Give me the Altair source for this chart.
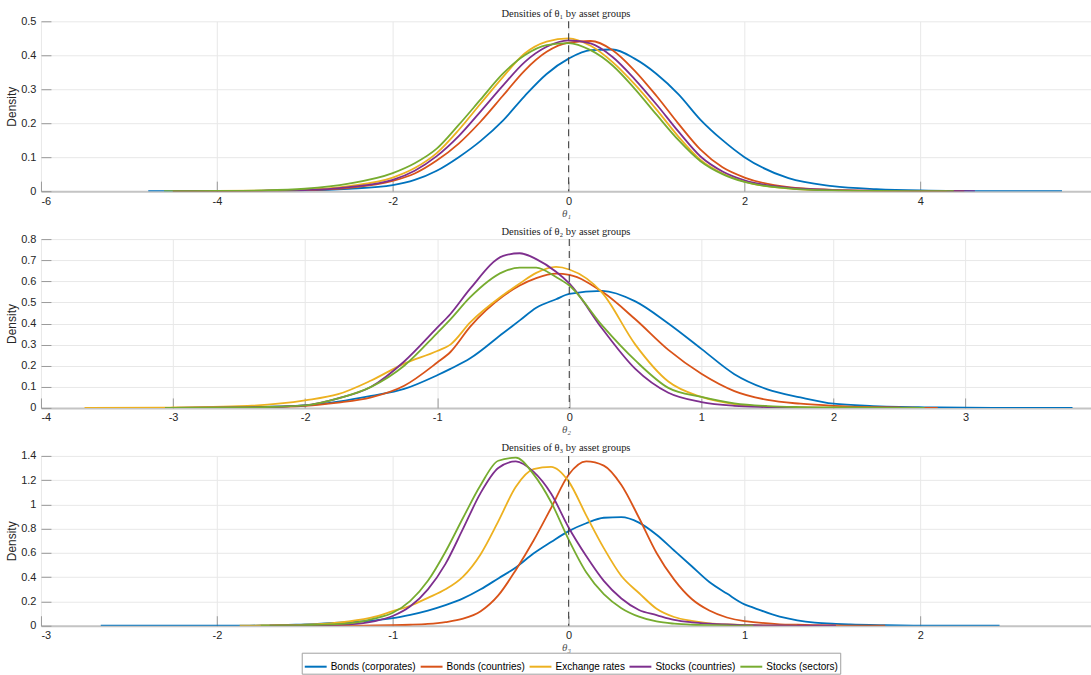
import altair as alt
import pandas as pd

GROUPS = ["Bonds (corporates)", "Bonds (countries)", "Exchange rates",
          "Stocks (countries)", "Stocks (sectors)"]
COLORS = ["#0072BD", "#D95319", "#EDB120", "#7E2F8E", "#77AC30"]

# ---------------- theta 1 ----------------
T1_X = [-4.78, -4.6, -4.5, -4, -3.5, -3, -2.5, -2, -1.75, -1.5, -1.25, -1, -0.75, -0.5,
        -0.25, 0, 0.25, 0.5, 0.75, 1, 1.25, 1.5, 1.75, 2, 2.5, 3, 3.5, 4, 4.3, 4.38,
        4.5, 4.62, 5, 5.61]
T1_BONDS_CORP = [0, 0, 0, 0.0003, 0.0008, 0.002, 0.007, 0.018, 0.033, 0.06, 0.10, 0.148,
                 0.207, 0.28, 0.345, 0.39, 0.415, 0.417, 0.39, 0.345, 0.285, 0.21, 0.15,
                 0.10, 0.038, 0.015, 0.006, 0.002, 0.001, 0.001, 0.0005, 0.0003, 0.0001, 0]
T1_BONDS_CTRY = [None, None, 0, 0.0003, 0.001, 0.003, 0.01, 0.03, 0.052, 0.09, 0.14,
                 0.205, 0.28, 0.355, 0.41, 0.437, 0.442, 0.415, 0.355, 0.28, 0.198, 0.122,
                 0.07, 0.04, 0.012, 0.004, 0.001, 0.0003, 0.0001, 0.0001, 0, None, None, None]
T1_FX = [None, None, 0, 0.0004, 0.0012, 0.004, 0.015, 0.04, 0.068, 0.112, 0.18, 0.258,
         0.335, 0.405, 0.44, 0.45, 0.428, 0.38, 0.315, 0.24, 0.16, 0.092, 0.052, 0.028,
         0.008, 0.002, 0.0005, 0.0001, 0, None, None, None, None, None]
T1_STK_CTRY = [None, None, 0, 0.0003, 0.001, 0.003, 0.012, 0.033, 0.06, 0.103, 0.162,
               0.235, 0.31, 0.38, 0.425, 0.444, 0.435, 0.395, 0.33, 0.255, 0.175, 0.102,
               0.058, 0.032, 0.01, 0.003, 0.001, 0.0003, 0.0002, 0.0001, 0.0001, 0, None, None]
T1_STK_SECT = [None, 0, 0.0001, 0.0006, 0.002, 0.007, 0.022, 0.053, 0.082, 0.125, 0.195,
               0.27, 0.345, 0.40, 0.43, 0.436, 0.415, 0.37, 0.302, 0.225, 0.15, 0.088,
               0.05, 0.027, 0.008, 0.002, 0.0005, 0.0001, 0.00005, 0, None, None, None, None]

# ---------------- theta 2 ----------------
T2_X = [-3.67, -3.06, -3, -2.5, -2, -1.75, -1.5, -1.25, -1, -0.9, -0.75, -0.5, -0.375,
        -0.25, -0.1, 0, 0.25, 0.5, 0.75, 1, 1.25, 1.5, 1.75, 2, 2.3, 2.5, 2.6, 2.69,
        2.79, 3, 3.81]
T2_BONDS_CORP = [None, 0, 0.0005, 0.003, 0.012, 0.03, 0.057, 0.09, 0.155, 0.185, 0.235,
                 0.355, 0.415, 0.475, 0.515, 0.54, 0.555, 0.505, 0.40, 0.28, 0.16, 0.088,
                 0.05, 0.02, 0.009, 0.005, 0.004, 0.003, 0.002, 0.001, 0]
T2_BONDS_CTRY = [None, 0, 0.0003, 0.002, 0.01, 0.025, 0.05, 0.105, 0.215, 0.265, 0.385,
                 0.53, 0.58, 0.615, 0.636, 0.63, 0.55, 0.42, 0.275, 0.162, 0.08, 0.038,
                 0.02, 0.01, 0.004, 0.002, 0.001, 0.0005, 0, None, None]
T2_FX = [0, 0.001, 0.002, 0.008, 0.036, 0.065, 0.13, 0.21, 0.27, 0.30, 0.405, 0.535,
         0.59, 0.64, 0.668, 0.656, 0.545, 0.30, 0.125, 0.052, 0.018, 0.006, 0.002, 0.001,
         0.0005, 0.0002, 0, None, None, None, None]
T2_STK_CTRY = [None, 0, 0.0005, 0.002, 0.012, 0.045, 0.10, 0.22, 0.38, 0.445, 0.565,
               0.72, 0.733, 0.705, 0.645, 0.59, 0.375, 0.185, 0.072, 0.028, 0.01, 0.004,
               0.001, 0.0005, 0, None, None, None, None, None, None]
T2_STK_SECT = [None, 0, 0.0005, 0.002, 0.012, 0.045, 0.10, 0.20, 0.355, 0.42, 0.525,
               0.645, 0.665, 0.665, 0.62, 0.58, 0.39, 0.225, 0.095, 0.052, 0.022, 0.009,
               0.004, 0.002, 0.001, 0.0005, 0.0002, 0, None, None, None]

# ---------------- theta 3 ----------------
T3_X = [-2.66, -1.87, -1.75, -1.7, -1.5, -1.25, -1.1, -1, -0.9, -0.8, -0.7, -0.6, -0.5,
        -0.4, -0.3, -0.2, -0.1, 0, 0.1, 0.2, 0.3, 0.4, 0.5, 0.6, 0.7, 0.8, 0.9, 1, 1.05,
        1.2, 1.3, 1.4, 1.52, 1.6, 1.8, 2, 2.45]
T3_BONDS_CORP = [0, 0.001, 0.002, 0.002, 0.012, 0.03, 0.045, 0.062, 0.09, 0.125, 0.17,
                 0.225, 0.30, 0.39, 0.48, 0.595, 0.69, 0.78, 0.845, 0.89, 0.895, 0.85,
                 0.75, 0.62, 0.49, 0.36, 0.265, 0.176, 0.15, 0.075, 0.045, 0.026, 0.015,
                 0.01, 0.004, 0.001, 0]
T3_BONDS_CTRY = [None, None, None, 0, 0, 0.001, 0.002, 0.004, 0.008, 0.015, 0.03, 0.058,
                 0.12, 0.25, 0.46, 0.70, 0.97, 1.245, 1.355, 1.32, 1.16, 0.89, 0.60, 0.38,
                 0.22, 0.125, 0.068, 0.038, 0.03, 0.012, 0.008, 0.005, 0.002, 0.001, 0,
                 None, None]
T3_FX = [None, 0, 0.002, 0.003, 0.008, 0.035, 0.075, 0.12, 0.165, 0.23, 0.30, 0.405,
         0.59, 0.86, 1.145, 1.29, 1.31, 1.19, 0.91, 0.64, 0.41, 0.27, 0.14, 0.072, 0.04,
         0.02, 0.01, 0.005, 0.004, 0.001, 0, None, None, None, None, None, None]
T3_STK_CTRY = [None, None, None, 0, 0.003, 0.012, 0.038, 0.08, 0.16, 0.30, 0.51, 0.80,
               1.095, 1.30, 1.355, 1.27, 1.09, 0.81, 0.575, 0.37, 0.225, 0.13, 0.088,
               0.048, 0.028, 0.017, 0.01, 0.005, 0.004, 0.002, 0.001, 0.001, 0, None,
               None, None, None]
T3_STK_SECT = [None, None, 0, 0.001, 0.005, 0.02, 0.06, 0.107, 0.205, 0.37, 0.61, 0.89,
               1.16, 1.36, 1.385, 1.25, 1.02, 0.71, 0.44, 0.26, 0.145, 0.075, 0.035,
               0.017, 0.008, 0.004, 0.002, 0.001, 0, None, None, None, None, None, None,
               None, None]

X_TICKS_1 = [-6, -4, -2, 0, 2, 4]
X_TICKS_2 = [-4, -3, -2, -1, 0, 1, 2, 3]
X_TICKS_3 = [-3, -2, -1, 0, 1, 2]
Y_TICKS_1 = [0, 0.1, 0.2, 0.3, 0.4, 0.5]
Y_TICKS_2 = [0, 0.1, 0.2, 0.3, 0.4, 0.5, 0.6, 0.7, 0.8]
Y_TICKS_3 = [0, 0.2, 0.4, 0.6, 0.8, 1, 1.2, 1.4]

W = 1051
LABEL_FONT = "Liberation Sans"
SERIF = "Liberation Serif"
TXT = "#262626"


def long_df(xs, series):
    rows = []
    for g, ys in zip(GROUPS, series):
        for i, (x, y) in enumerate(zip(xs, ys)):
            if y is not None:
                rows.append({"x": x, "d": y, "g": g, "o": i})
    return pd.DataFrame(rows)


LEGEND = alt.Legend(orient="none", legendX=261, legendY=632, direction="horizontal",
                    title=None, symbolType="stroke", symbolSize=480,
                    symbolStrokeWidth=2, labelFont=LABEL_FONT, labelFontSize=10,
                    labelColor="#000", labelOffset=3, columnPadding=0,
                    strokeColor="#a0a0a0", fillColor="white", padding=2)


def panel(df, title, xlab, xdom, xticks, ydom, yticks, h):
    xscale = alt.Scale(domain=xdom, nice=False, zero=False)
    yscale = alt.Scale(domain=ydom, nice=False, zero=False)
    main_x_axis = alt.Axis(values=xticks, title=xlab, labelExpr="'' + datum.value",
                           ticks=False, domain=True, domainColor="#c4c4c4",
                           domainWidth=2, labelPadding=4, titlePadding=1,
                           titleFont=SERIF, titleFontStyle="italic",
                           titleFontWeight="normal", titleFontSize=11,
                           titleColor="#555555", grid=True)
    main_y_axis = alt.Axis(values=yticks, title="Density", labelExpr="'' + datum.value",
                           ticks=False, domain=False, labelPadding=5, minExtent=20,
                           maxExtent=20, titlePadding=2, grid=True)
    lines = alt.Chart(df).mark_line(strokeWidth=1.8, interpolate="monotone", clip=True).encode(
        x=alt.X("x:Q", scale=xscale, axis=main_x_axis),
        y=alt.Y("d:Q", scale=yscale, axis=main_y_axis),
        color=alt.Color("g:N", scale=alt.Scale(domain=GROUPS, range=COLORS), legend=LEGEND),
        detail="g:N",
        order="o:Q",
    )
    tick_x_axis = alt.Axis(orient="bottom", values=xticks, offset=-10, tickSize=10,
                           ticks=True, labels=False, domain=False, grid=False, title=None,
                           tickColor="#9a9a9a", tickWidth=1)
    zero = alt.Chart(pd.DataFrame({"x": [0]})).mark_rule(
        color="#454545", strokeDash=[7, 5], strokeWidth=1.1).encode(
        x=alt.X("x:Q", scale=xscale, axis=tick_x_axis))
    tick_y_axis = alt.Axis(orient="left", values=yticks, offset=-10, tickSize=10,
                           ticks=True, labels=False, domain=False, grid=False, title=None,
                           tickColor="#9a9a9a", tickWidth=1)
    ghost = alt.Chart(df).mark_point(opacity=0).encode(
        x=alt.X("x:Q", scale=xscale, axis=None),
        y=alt.Y("d:Q", scale=yscale, axis=tick_y_axis))
    return alt.layer(lines, zero, ghost).resolve_axis(x="independent", y="independent").properties(
        width=W, height=h,
        title=alt.TitleParams(title, font=SERIF, fontSize=10.5, fontWeight="normal",
                              color="#222222", offset=-4, anchor="middle", frame="group"))


p1 = panel(long_df(T1_X, [T1_BONDS_CORP, T1_BONDS_CTRY, T1_FX, T1_STK_CTRY, T1_STK_SECT]),
           "Densities of θ₁ by asset groups", "θ₁", [-6, 5.94], X_TICKS_1, [0, 0.5], Y_TICKS_1, 170)
p2 = panel(long_df(T2_X, [T2_BONDS_CORP, T2_BONDS_CTRY, T2_FX, T2_STK_CTRY, T2_STK_SECT]),
           "Densities of θ₂ by asset groups", "θ₂", [-4, 3.95], X_TICKS_2, [0, 0.8], Y_TICKS_2, 169)
p3 = panel(long_df(T3_X, [T3_BONDS_CORP, T3_BONDS_CTRY, T3_FX, T3_STK_CTRY, T3_STK_SECT]),
           "Densities of θ₃ by asset groups", "θ₃", [-3, 2.97], X_TICKS_3, [0, 1.4], Y_TICKS_3, 170)

chart = alt.vconcat(p1, p2, p3, spacing=8).properties(
    padding={"left": 6, "top": 8, "right": 0, "bottom": 0}
).configure_view(stroke=None).configure_axis(
    labelFont=LABEL_FONT, labelFontSize=11, labelColor=TXT,
    titleFont=LABEL_FONT, titleFontSize=12, titleFontWeight="normal", titleColor=TXT,
    gridColor="#e8e8e8", gridWidth=1,
)

chart.save("out.html", embed_options={"renderer": "svg", "actions": False})
